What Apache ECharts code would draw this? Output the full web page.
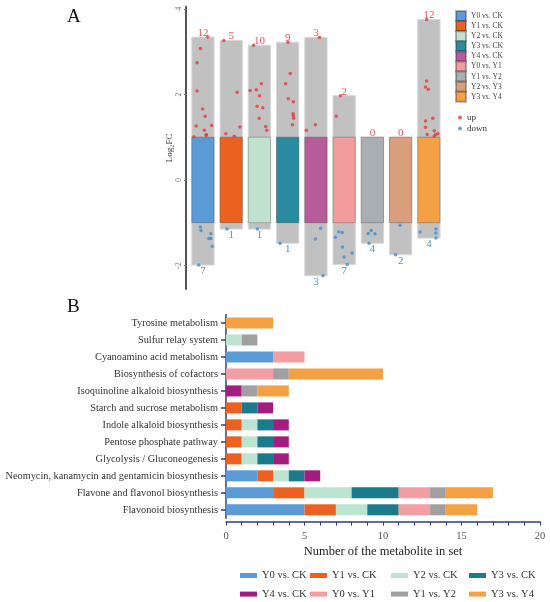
<!DOCTYPE html>
<html><head><meta charset="utf-8">
<script src="https://cdn.jsdelivr.net/npm/echarts@6/dist/echarts.min.js"></script>
<style>html,body{margin:0;padding:0;background:#fff}#c{width:550px;height:602px}</style>
</head><body><div id="c"></div>
<script>
// ---------- Panel A data ----------
const groups = ['Y0 vs. CK','Y1 vs. CK','Y2 vs. CK','Y3 vs. CK','Y4 vs. CK','Y0 vs. Y1','Y1 vs. Y2','Y2 vs. Y3','Y3 vs. Y4'];
const upCounts = [12,5,10,9,3,2,0,0,12];
const downCounts = [7,1,1,1,3,7,4,2,4];
const upValues = [
 [3.34,3.07,2.74,2.08,1.66,1.49,1.26,1.27,1.16,1.06,1.04,1.01],
 [3.26,2.05,1.24,1.08,1.02],
 [3.15,2.25,2.09,2.11,1.97,1.72,1.69,1.44,1.25,1.16],
 [3.22,2.49,2.25,1.90,1.83,1.55,1.50,1.44,1.29],
 [3.33,1.29,1.16],
 [1.97,1.49],
 [],
 [],
 [3.75,2.31,2.17,2.12,1.38,1.44,1.23,1.15,1.06,1.08,1.06,1.02]
];
const upJitter = [
 [0.17,-0.09,-0.21,-0.21,-0.01,0.08,-0.24,0.31,0.05,0.12,0.12,-0.32],
 [-0.26,0.21,0.31,-0.19,0.11],
 [-0.21,0.07,-0.33,-0.11,0,-0.08,0.12,-0.01,0.22,0.26],
 [0.01,0.09,-0.07,0.02,0.2,0.19,0.2,0.21,0.17],
 [0.13,-0.02,-0.34],
 [-0.13,-0.28],
 [],
 [],
 [-0.08,-0.08,-0.12,-0.02,-0.12,0.14,-0.12,0.19,-0.06,0.32,0.24,0.19]
];
const downValues = [
 [-1.10,-1.18,-1.25,-1.37,-1.37,-1.55,-1.99],
 [-1.15],
 [-1.15],
 [-1.48],
 [-1.13,-1.38,-2.24],
 [-1.21,-1.23,-1.34,-1.57,-1.71,-1.80,-1.98],
 [-1.18,-1.25,-1.26,-1.48],
 [-1.06,-1.75],
 [-1.22,-1.15,-1.24,-1.36]
];
const downJitter = [
 [-0.09,-0.07,0.28,0.21,0.28,0.33,-0.15],
 [-0.15],
 [-0.07],
 [-0.27],
 [0.17,-0.02,0.25],
 [-0.19,-0.07,-0.31,-0.06,0.28,0,0.11],
 [-0.04,-0.15,0.09,-0.12],
 [-0.02,-0.18],
 [-0.31,0.25,0.25,0.25]
];
const yTicksA = [-2,0,2,4];

// ---------- Panel B data ----------
const pathways = ['Flavonoid biosynthesis','Flavone and flavonol biosynthesis','Neomycin, kanamycin and gentamicin biosynthesis','Glycolysis / Gluconeogenesis','Pentose phosphate pathway','Indole alkaloid biosynthesis','Starch and sucrose metabolism','Isoquinoline alkaloid biosynthesis','Biosynthesis of cofactors','Cyanoamino acid metabolism','Sulfur relay system','Tyrosine metabolism'];
const bNames = ['Y0 vs. CK','Y1 vs. CK','Y2 vs. CK','Y3 vs. CK','Y4 vs. CK','Y0 vs. Y1','Y1 vs. Y2','Y3 vs. Y4'];
const bY0CK = [5,3,2,0,0,0,0,0,0,3,0,0];
const bY1CK = [2,2,1,1,1,1,1,0,0,0,0,0];
const bY2CK = [2,3,1,1,1,1,0,0,0,0,1,0];
const bY3CK = [2,3,1,1,1,1,1,0,0,0,0,0];
const bY4CK = [0,0,1,1,1,1,1,1,0,0,0,0];
const bY0Y1 = [2,2,0,0,0,0,0,0,3,2,0,0];
const bY1Y2 = [1,1,0,0,0,0,0,1,1,0,1,0];
const bY3Y4 = [2,3,0,0,0,0,0,2,6,0,0,3];
const bValues = [bY0CK,bY1CK,bY2CK,bY3CK,bY4CK,bY0Y1,bY1Y2,bY3Y4];

// ---------- styles ----------
const colorsA = ['#5b9bd5','#e9621f','#bfe2cf','#2a8ba0','#b65c9b','#f39c9d','#a8aeb1','#d99f7d','#f4a044'];
const colorsB = ['#5b9bd5','#ed6120','#bde4d0','#1b7a8b','#a41c7f','#f29ea3','#a0a0a3','#f5a043'];
const FONT = 'Liberation Serif';
const navy = '#2f3d8c';

const chart = echarts.init(document.getElementById('c'), null, {renderer:'canvas'});

const grayData = groups.map((g,i)=>{
  const top = upValues[i].length ? Math.max(...upValues[i]) : 1;
  const bot = downValues[i].length ? Math.min(...downValues[i]) : -1;
  return [i, bot, top, upCounts[i], downCounts[i]];
});
const BW = 0.79;
function grayRender(params, api){
  const x = api.value(0), lo = api.value(1), hi = api.value(2);
  const t = api.coord([x, hi]), b = api.coord([x, lo]);
  const w = api.size([BW,0])[0];
  return {type:'group', children:[
    {type:'rect', shape:{x:t[0]-w/2, y:t[1], width:w, height:b[1]-t[1]}, style:{fill:'#c1c1c1', stroke:'#d8d8d8', lineWidth:1}},
    {type:'text', style:{text:String(api.value(3)), x:t[0], y:t[1]+1.5, align:'center', verticalAlign:'bottom', fill:'#e8555a', font:'11px "'+FONT+'"'}},
    {type:'text', style:{text:String(api.value(4)), x:b[0], y:b[1]+0.5, align:'center', verticalAlign:'top', fill:'#4d92d3', font:'11px "'+FONT+'"'}}
  ]};
}
function boxRender(params, api){
  const x = api.value(0), lo = api.value(1), hi = api.value(2);
  const t = api.coord([x, hi]), b = api.coord([x, lo]);
  const w = api.size([BW,0])[0];
  return {type:'rect', shape:{x:t[0]-w/2, y:t[1], width:w, height:b[1]-t[1]},
    style:{fill:api.visual('color'), stroke:'rgba(40,40,40,0.35)', lineWidth:0.8}};
}

const series = [];
series.push({type:'custom', name:'range', xAxisIndex:0, yAxisIndex:0, renderItem:grayRender,
  data:grayData, encode:{x:0,y:[1,2]}, silent:true, z:1});
groups.forEach((g,i)=>{
  series.push({type:'custom', name:g, xAxisIndex:0, yAxisIndex:0, renderItem:boxRender,
    itemStyle:{color:colorsA[i], borderColor:'rgba(40,40,40,0.35)', borderWidth:0.8},
    data:[[i,-1,1]], encode:{x:0,y:[1,2]}, z:2});
});
const upPts = [], downPts = [];
upValues.forEach((arr,i)=>arr.forEach((v,k)=>upPts.push([i+upJitter[i][k], v])));
downValues.forEach((arr,i)=>arr.forEach((v,k)=>downPts.push([i+downJitter[i][k], v])));
series.push({type:'scatter', name:'up', xAxisIndex:0, yAxisIndex:0, data:upPts, symbolSize:3.5,
  itemStyle:{color:'#e8383d'}, z:5});
series.push({type:'scatter', name:'down', xAxisIndex:0, yAxisIndex:0, data:downPts, symbolSize:3.5,
  itemStyle:{color:'#3b8fd6'}, z:5});

bNames.forEach((n,i)=>{
  series.push({type:'bar', name:'B|'+n, stack:'b', xAxisIndex:1, yAxisIndex:1,
    data:bValues[i], itemStyle:{color:colorsB[i]}, barCategoryGap:'35%'});
});

const legB = (left, names)=>({orient:'vertical', left:left, top:569.5, padding:0, itemWidth:17, itemHeight:5,
  itemGap:6.6, itemTextGap:4, icon:'rect', data:names.map(n=>'B|'+n),
  formatter:(n)=>n.slice(2), textStyle:{fontFamily:FONT, fontSize:10.5, color:'#333', lineHeight:12}, selectedMode:false});

chart.setOption({
  animation:false,
  textStyle:{fontFamily:FONT},
  title:[
    {text:'A', left:62, top:3, textStyle:{fontFamily:FONT, fontSize:19, fontWeight:'normal', color:'#111'}},
    {text:'B', left:62, top:293, textStyle:{fontFamily:FONT, fontSize:19, fontWeight:'normal', color:'#111'}}
  ],
  grid:[
    {left:186, top:6.7, width:257, height:282.3},
    {left:226, top:314.5, right:10, bottom:83.7}
  ],
  xAxis:[
    {type:'value', gridIndex:0, min:-0.6, max:8.5, show:false},
    {type:'value', gridIndex:1, min:0, max:20, interval:5, offset:3.4,
      axisLine:{show:true, lineStyle:{color:navy, width:1.5}},
      axisTick:{show:true, length:4, lineStyle:{color:navy}},
      minorTick:{show:true, splitNumber:5, length:4, lineStyle:{color:navy}},
      splitLine:{show:false}, minorSplitLine:{show:false},
      axisLabel:{fontSize:10.5, color:'#555', margin:9},
      name:'Number of the metabolite in set', nameLocation:'middle', nameGap:24,
      nameTextStyle:{fontFamily:FONT, fontSize:12.5, color:'#222'}}
  ],
  yAxis:[
    {type:'value', gridIndex:0, min:-2.55, max:4.05,
      axisLine:{show:true, onZero:false, lineStyle:{color:'#555', width:2}},
      axisTick:{show:true, length:2, customValues:yTicksA, lineStyle:{color:'#777'}},
      axisLabel:{customValues:yTicksA, rotate:90, fontSize:8, color:'#777', margin:3},
      splitLine:{show:false},
      name:'Log\u2082FC', nameLocation:'middle', nameGap:12, nameRotate:90,
      nameTextStyle:{fontFamily:FONT, fontSize:9, color:'#333'}},
    {type:'category', gridIndex:1, data:pathways,
      axisLine:{show:true, onZero:false, lineStyle:{color:navy, width:1.5}},
      axisTick:{show:true, length:5, alignWithLabel:true, lineStyle:{color:navy, width:1.5}},
      axisLabel:{fontSize:10.3, color:'#333', margin:8}}
  ],
  legend:[
    {orient:'vertical', left:455, top:10, padding:0, itemWidth:10, itemHeight:10, itemGap:-1.9, itemTextGap:2.5,
      icon:'rect', data:groups, textStyle:{fontFamily:FONT, fontSize:7.5, color:'#444', lineHeight:10}, selectedMode:false},
    {orient:'vertical', left:458, top:113, padding:0, itemWidth:4, itemHeight:4, itemGap:2, itemTextGap:6,
      icon:'circle', data:['up','down'], textStyle:{fontFamily:FONT, fontSize:9, color:'#333', lineHeight:9}, selectedMode:false},
    legB(240, ['Y0 vs. CK','Y4 vs. CK']),
    legB(310, ['Y1 vs. CK','Y0 vs. Y1']),
    legB(391, ['Y2 vs. CK','Y1 vs. Y2']),
    legB(469, ['Y3 vs. CK','Y3 vs. Y4'])
  ],
  series:series
});
</script></body></html>
